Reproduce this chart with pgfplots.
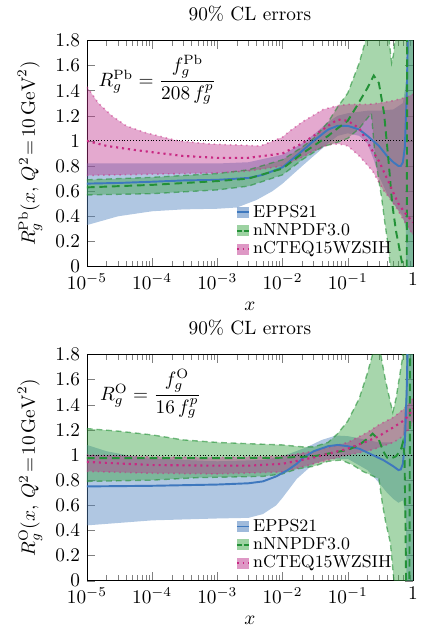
\documentclass[border=0pt]{standalone}
\usepackage{pgfplots}
\pgfplotsset{compat=1.18}
\usepgfplotslibrary{fillbetween}
\definecolor{eppsline}{RGB}{62,120,190}
\definecolor{eppsfill}{RGB}{80,130,190}
\definecolor{nnline}{RGB}{35,145,55}
\definecolor{nnfill}{RGB}{60,165,70}
\definecolor{ncline}{RGB}{200,40,130}
\definecolor{ncfill}{RGB}{190,50,140}
\begin{document}
\begin{tikzpicture}
% ---------------- Pb panel ----------------
\begin{axis}[at={(0pt,0pt)}, anchor=south west,
    xmode=log, scale only axis, width=169.2pt, height=117.4pt,
    xmin=1e-5, xmax=1, ymin=0, ymax=1.8,
    xtick={1e-5,1e-4,1e-3,1e-2,1e-1,1},
    xticklabels={$10^{-5}$,$10^{-4}$,$10^{-3}$,$10^{-2}$,$10^{-1}$,$1$},
    ytick={0,0.2,0.4,0.6,0.8,1,1.2,1.4,1.6,1.8},
    yticklabels={0,0.2,0.4,0.6,0.8,1,1.2,1.4,1.6,1.8},
    title={90\% CL errors}, xlabel={$x$},
    legend cell align=left,
    legend style={at={(0.962,0.012)}, anchor=south east, draw=none, fill=none, font=\small, row sep=-1.2pt, nodes={inner sep=1.5pt}},
  ylabel={$R_g^{\mathrm{Pb}}(x,\,Q^2\!=\!10\,\mathrm{GeV}^2)$}]
% EPPS21 band
\addplot[draw=none, forget plot, name path=eu] coordinates {(1e-5,0.82)(1e-4,0.82)(1e-3,0.82)(3e-3,0.83)(1e-2,0.89)(2e-2,0.98)(3e-2,1.05)(5e-2,1.15)(7e-2,1.20)(0.1,1.22)(0.2,1.24)(0.3,1.24)(0.5,1.25)(0.7,1.3)(0.8,1.5)(0.84,3)(1,3)};
\addplot[draw=none, forget plot, name path=el] coordinates {(1e-5,0.33)(3e-5,0.40)(1e-4,0.44)(3e-4,0.455)(1e-3,0.46)(2e-3,0.47)(4e-3,0.53)(7e-3,0.60)(1e-2,0.66)(2e-2,0.80)(3e-2,0.88)(5e-2,0.98)(7e-2,1.04)(0.1,1.06)(0.15,1.04)(0.2,0.98)(0.25,0.85)(0.3,0.72)(0.4,0.58)(0.5,0.5)(0.6,0.45)(0.7,0.40)(0.78,0.3)(0.82,-1)(1,-1)};
\addplot[eppsfill, fill opacity=0.45, forget plot] fill between[of=eu and el];
% nNNPDF3.0 band
\addplot[nnline, draw opacity=0.6, line width=0.7pt, dash pattern=on 3pt off 2pt, forget plot, name path=nu] coordinates {(1e-5,0.69)(1e-4,0.71)(1e-3,0.74)(3e-3,0.77)(1e-2,0.85)(2e-2,0.95)(3e-2,1.02)(5e-2,1.15)(7e-2,1.27)(0.1,1.38)(0.15,1.62)(0.2,1.85)(0.3,2.5)(0.38,2.5)(0.43,1.8)(0.47,1.62)(0.5,1.68)(0.54,1.85)(0.6,2.5)(1,2.5)};
\addplot[nnline, draw opacity=0.6, line width=0.7pt, dash pattern=on 3pt off 2pt, forget plot, name path=nl] coordinates {(1e-5,0.57)(1e-4,0.58)(1e-3,0.61)(3e-3,0.64)(1e-2,0.73)(2e-2,0.85)(4e-2,0.95)(7e-2,0.99)(0.1,1.02)(0.15,1.10)(0.2,1.18)(0.23,1.22)(0.26,0.9)(0.3,0.68)(0.33,0.55)(0.37,0.35)(0.41,0.19)(0.45,0.0)(0.5,-0.5)(1,-0.5)};
\addplot[nnfill, fill opacity=0.45, forget plot] fill between[of=nu and nl];
% nCTEQ15WZSIH band
\addplot[ncline, draw opacity=0.5, line width=0.8pt, dotted, forget plot, name path=cu] coordinates {(1e-5,1.43)(1.5e-5,1.30)(2.4e-5,1.20)(4e-5,1.12)(7.8e-5,1.066)(2.5e-4,1.0)(8e-4,0.975)(4.6e-3,0.96)(1e-2,1.03)(1.3e-2,1.08)(2e-2,1.15)(4.2e-2,1.25)(7e-2,1.28)(0.1,1.29)(0.2,1.29)(0.3,1.30)(0.5,1.32)(0.7,1.34)(1,1.37)};
\addplot[ncline, draw opacity=0.5, line width=0.8pt, dotted, forget plot, name path=cl] coordinates {(1e-5,0.725)(1e-4,0.735)(1e-3,0.745)(3e-3,0.76)(1e-2,0.80)(2e-2,0.87)(3e-2,0.92)(5e-2,0.97)(7.4e-2,0.975)(0.1,0.96)(0.15,0.88)(0.24,0.76)(0.35,0.61)(0.54,0.48)(0.7,0.38)(0.85,0.31)(1,0.25)};
\addplot[ncfill, fill opacity=0.42, forget plot] fill between[of=cu and cl];
% reference line
\addplot[black, densely dotted, line width=0.5pt, forget plot] coordinates {(1e-5,1)(1,1)};
% central values
\addplot[eppsline, line width=1pt, forget plot] coordinates {(1e-5,0.66)(3e-5,0.665)(1e-4,0.675)(3e-4,0.685)(1e-3,0.69)(3e-3,0.705)(5e-3,0.73)(1e-2,0.79)(2e-2,0.92)(3e-2,1.00)(5e-2,1.09)(7e-2,1.12)(0.1,1.12)(0.15,1.09)(0.2,1.04)(0.3,0.96)(0.4,0.88)(0.5,0.83)(0.6,0.80)(0.65,0.80)(0.7,0.83)(0.75,0.95)(0.8,1.35)(0.84,1.9)};
\addplot[nnline, line width=1pt, dash pattern=on 4pt off 2.5pt, forget plot] coordinates {(1e-5,0.63)(1e-4,0.65)(1e-3,0.68)(3e-3,0.70)(1e-2,0.78)(2e-2,0.90)(3e-2,0.96)(5e-2,1.04)(7e-2,1.10)(0.1,1.16)(0.135,1.27)(0.2,1.42)(0.25,1.52)(0.3,1.46)(0.36,1.22)(0.42,0.85)(0.48,0.50)(0.55,0.28)(0.6,0.18)(0.65,0.08)(0.7,0.0)(0.75,-0.3)(0.8,-0.3)(0.82,2.5)};
\addplot[ncline, line width=1.1pt, dotted, forget plot] coordinates {(1e-5,1.00)(2e-5,0.96)(5e-5,0.93)(1e-4,0.91)(3e-4,0.88)(1e-3,0.865)(3e-3,0.865)(1e-2,0.90)(2e-2,0.98)(3e-2,1.04)(5e-2,1.12)(7e-2,1.17)(0.1,1.16)(0.15,1.10)(0.24,0.92)(0.3,0.84)(0.4,0.70)(0.54,0.55)(0.6,0.50)(0.7,0.45)(0.8,0.41)(0.9,0.38)(1,0.35)};
\addlegendimage{legend image code/.code={\path[draw=none,fill=eppsfill,fill opacity=0.55] (0pt,-2.8pt) rectangle (6.5pt,2.8pt); \draw[eppsline,line width=1pt,solid] (0pt,0pt)--(6.5pt,0pt);}}
\addlegendentry{EPPS21}
\addlegendimage{legend image code/.code={\path[draw=none,fill=nnfill,fill opacity=0.5] (0pt,-2.8pt) rectangle (6.5pt,2.8pt); \draw[nnline,line width=1pt,dash pattern=on 2.5pt off 1.5pt] (0pt,0pt)--(6.5pt,0pt);}}
\addlegendentry{nNNPDF3.0}
\addlegendimage{legend image code/.code={\path[draw=none,fill=ncfill,fill opacity=0.5] (0pt,-2.8pt) rectangle (6.5pt,2.8pt); \draw[ncline,line width=1pt,dotted] (0pt,0pt)--(6.5pt,0pt);}}
\addlegendentry{nCTEQ15WZSIH}
\node at (rel axis cs:0.216,0.827) {$R_g^{\mathrm{Pb}} = \displaystyle\frac{f_g^{\mathrm{Pb}}}{208\,f_g^p}$};
\end{axis}
% ---------------- O panel ----------------
\begin{axis}[at={(0pt,-163pt)}, anchor=south west,
    xmode=log, scale only axis, width=169.2pt, height=117.4pt,
    xmin=1e-5, xmax=1, ymin=0, ymax=1.8,
    xtick={1e-5,1e-4,1e-3,1e-2,1e-1,1},
    xticklabels={$10^{-5}$,$10^{-4}$,$10^{-3}$,$10^{-2}$,$10^{-1}$,$1$},
    ytick={0,0.2,0.4,0.6,0.8,1,1.2,1.4,1.6,1.8},
    yticklabels={0,0.2,0.4,0.6,0.8,1,1.2,1.4,1.6,1.8},
    title={90\% CL errors}, xlabel={$x$},
    legend cell align=left,
    legend style={at={(0.962,0.012)}, anchor=south east, draw=none, fill=none, font=\small, row sep=-1.2pt, nodes={inner sep=1.5pt}},
  ylabel={$R_g^{\mathrm{O}}(x,\,Q^2\!=\!10\,\mathrm{GeV}^2)$}]
\addplot[draw=none, forget plot, name path=eu] coordinates {(1e-5,1.08)(2e-5,1.03)(5e-5,0.99)(1e-4,0.97)(1e-3,0.95)(5e-3,0.96)(1e-2,0.99)(2.3e-2,1.06)(4e-2,1.12)(6.6e-2,1.155)(0.1,1.15)(0.2,1.12)(0.3,1.1)(0.5,1.1)(0.7,1.15)(0.78,1.5)(0.82,3)(1,3)};
\addplot[draw=none, forget plot, name path=el] coordinates {(1e-5,0.44)(1e-4,0.48)(1e-3,0.495)(3e-3,0.50)(5e-3,0.53)(8e-3,0.60)(1e-2,0.66)(1.65e-2,0.81)(3e-2,0.93)(5e-2,0.97)(0.1,0.97)(0.2,0.88)(0.3,0.78)(0.4,0.70)(0.5,0.65)(0.6,0.62)(0.7,0.64)(0.78,0.5)(0.82,-1)(1,-1)};
\addplot[eppsfill, fill opacity=0.45, forget plot] fill between[of=eu and el];
\addplot[nnline, draw opacity=0.6, line width=0.7pt, dash pattern=on 3pt off 2pt, forget plot, name path=nu] coordinates {(1e-5,1.21)(3e-5,1.19)(1e-4,1.16)(3e-4,1.12)(1e-3,1.10)(3e-3,1.09)(1e-2,1.08)(2e-2,1.065)(3e-2,1.065)(5e-2,1.10)(7e-2,1.17)(0.1,1.27)(0.15,1.45)(0.2,1.65)(0.24,1.8)(0.28,2.0)(0.32,1.8)(0.38,1.59)(0.45,1.42)(0.49,1.34)(0.55,1.45)(0.62,1.62)(0.68,1.75)(0.72,1.9)(0.75,2.5)(1,2.5)};
\addplot[nnline, draw opacity=0.6, line width=0.7pt, dash pattern=on 3pt off 2pt, forget plot, name path=nl] coordinates {(1e-5,0.79)(1e-4,0.80)(5e-4,0.82)(5e-3,0.83)(1e-2,0.85)(1.7e-2,0.89)(3e-2,0.91)(5e-2,0.95)(8e-2,0.96)(0.12,0.92)(0.17,0.87)(0.3,0.81)(0.34,0.61)(0.38,0.47)(0.45,0.3)(0.51,0.0)(0.55,-0.5)(1,-0.5)};
\addplot[nnfill, fill opacity=0.45, forget plot] fill between[of=nu and nl];
\addplot[ncline, draw opacity=0.5, line width=0.8pt, dotted, forget plot, name path=cu] coordinates {(1e-5,1.0)(1e-4,0.985)(1e-3,0.98)(1e-2,0.99)(3e-2,1.03)(0.1,1.1)(0.2,1.18)(0.3,1.24)(0.5,1.30)(0.7,1.36)(0.85,1.40)(1,1.45)};
\addplot[ncline, draw opacity=0.5, line width=0.8pt, dotted, forget plot, name path=cl] coordinates {(1e-5,0.87)(1e-4,0.855)(1e-3,0.85)(1e-2,0.865)(3e-2,0.93)(0.1,1.0)(0.2,1.03)(0.3,1.06)(0.5,1.1)(0.7,1.15)(0.85,1.2)(1,1.27)};
\addplot[ncfill, fill opacity=0.42, forget plot] fill between[of=cu and cl];
\addplot[black, densely dotted, line width=0.5pt, forget plot] coordinates {(1e-5,1)(1,1)};
\addplot[eppsline, line width=1pt, forget plot] coordinates {(1e-5,0.75)(1e-4,0.755)(1e-3,0.765)(3e-3,0.775)(5e-3,0.79)(8e-3,0.83)(1.2e-2,0.88)(1.65e-2,0.93)(2.1e-2,0.98)(3e-2,1.03)(5e-2,1.07)(7e-2,1.08)(0.1,1.07)(0.15,1.05)(0.24,1.0)(0.35,0.96)(0.5,0.91)(0.6,0.88)(0.65,0.885)(0.7,0.93)(0.75,1.1)(0.8,1.5)(0.83,1.9)};
\addplot[nnline, line width=1pt, dash pattern=on 4pt off 2.5pt, forget plot] coordinates {(1e-5,0.975)(1e-3,0.975)(1e-2,0.978)(3e-2,0.99)(0.1,1.04)(0.15,1.08)(0.2,1.13)(0.24,1.17)(0.3,1.12)(0.35,1.03)(0.4,0.98)(0.45,0.97)(0.55,0.99)(0.65,1.04)(0.7,1.1)(0.74,1.0)(0.77,0.4)(0.79,-0.2)(0.88,-0.2)(0.91,2.5)};
\addplot[ncline, line width=1.1pt, dotted, forget plot] coordinates {(1e-5,0.945)(1e-4,0.92)(1e-3,0.915)(3e-3,0.915)(1e-2,0.93)(3e-2,0.98)(0.1,1.05)(0.2,1.11)(0.3,1.15)(0.4,1.19)(0.5,1.22)(0.7,1.27)(0.85,1.31)(1,1.37)};
\addlegendimage{legend image code/.code={\path[draw=none,fill=eppsfill,fill opacity=0.55] (0pt,-2.8pt) rectangle (6.5pt,2.8pt); \draw[eppsline,line width=1pt,solid] (0pt,0pt)--(6.5pt,0pt);}}
\addlegendentry{EPPS21}
\addlegendimage{legend image code/.code={\path[draw=none,fill=nnfill,fill opacity=0.5] (0pt,-2.8pt) rectangle (6.5pt,2.8pt); \draw[nnline,line width=1pt,dash pattern=on 2.5pt off 1.5pt] (0pt,0pt)--(6.5pt,0pt);}}
\addlegendentry{nNNPDF3.0}
\addlegendimage{legend image code/.code={\path[draw=none,fill=ncfill,fill opacity=0.5] (0pt,-2.8pt) rectangle (6.5pt,2.8pt); \draw[ncline,line width=1pt,dotted] (0pt,0pt)--(6.5pt,0pt);}}
\addlegendentry{nCTEQ15WZSIH}
\node at (rel axis cs:0.195,0.827) {$R_g^{\mathrm{O}} = \displaystyle\frac{f_g^{\mathrm{O}}}{16\,f_g^p}$};
\end{axis}
\path (-45.1pt,134.3pt) (181pt,-191.7pt);
\end{tikzpicture}
\end{document}
